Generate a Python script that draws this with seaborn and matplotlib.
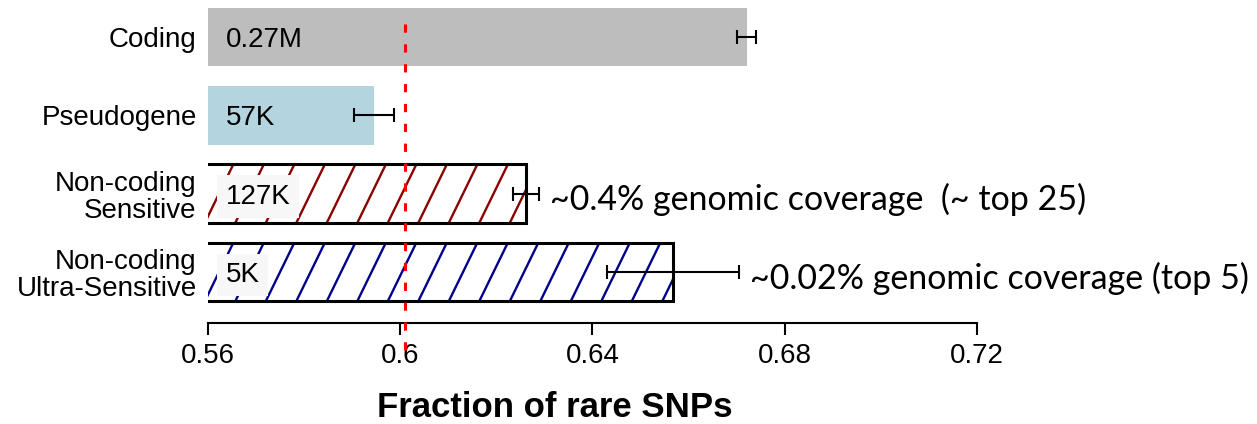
import numpy as np
import pandas as pd
import matplotlib
matplotlib.use("Agg")
import matplotlib.pyplot as plt
import seaborn as sns

# ---- data -------------------------------------------------------------
categories = ["Coding", "Pseudogene", "Non-coding\nSensitive", "Non-coding\nUltra-Sensitive"]
rare_fraction = [0.6721, 0.5945, 0.6262, 0.6568]
rare_fraction_err = [0.0020, 0.0041, 0.0027, 0.0137]
snp_counts = ["0.27M", "57K", "127K", "5K"]
coverage_notes = [None, None,
                  "~0.4% genomic coverage  (~ top 25)",
                  "~0.02% genomic coverage (top 5)"]
overall_fraction = 0.601
x_ticks = [0.56, 0.60, 0.64, 0.68, 0.72]
x_tick_labels = ["0.56", "0.6", "0.64", "0.68", "0.72"]

bar_colors = ["#BDBDBD", "#ADD8E6", "white", "white"]
hatch_colors = [None, None, "#8B0000", "#00008B"]

# ---- style ------------------------------------------------------------
sns.set_style("white")
plt.rcParams["font.family"] = ["Liberation Sans", "DejaVu Sans"]
plt.rcParams["text.color"] = "black"
plt.rcParams["axes.labelcolor"] = "black"
plt.rcParams["xtick.color"] = "black"
plt.rcParams["ytick.color"] = "black"

fig = plt.figure(figsize=(12.57, 4.24), dpi=100)
ax = fig.add_axes([0.16571, 0.2375, 0.6113, 0.7625])

df = pd.DataFrame({"category": categories, "fraction": rare_fraction})
sns.barplot(data=df, x="fraction", y="category", hue="category",
            palette=bar_colors, legend=False, orient="h", width=0.75,
            linewidth=0, ax=ax)

ax.set_xlim(0.56, 0.72)
ax.set_ylim(3.655, -0.472)

positions = np.arange(len(categories))


def draw_hatch(patch, color, angle=64, spacing=30.5, lw=1.7):
    """Diagonal stripes inside a bar, computed in pixel space and clipped to it."""
    inv = ax.transData.inverted()
    bb = patch.get_window_extent()
    h = bb.y1 - bb.y0
    dx = h / np.tan(np.deg2rad(angle))
    for xb in np.arange(bb.x0 - dx - spacing, bb.x1 + spacing, spacing):
        t_lo = max(0.0, (bb.x0 - xb) / dx)
        t_hi = min(1.0, (bb.x1 - xb) / dx)
        if t_hi <= t_lo:
            continue
        p0 = inv.transform((xb + t_lo * dx, bb.y0 + t_lo * h))
        p1 = inv.transform((xb + t_hi * dx, bb.y0 + t_hi * h))
        ax.plot([p0[0], p1[0]], [p0[1], p1[1]], color=color, lw=lw,
                zorder=1.5, solid_capstyle="butt")


# hatched outline bars for the non-coding classes
fig.canvas.draw()
for patch, hcol in zip(ax.patches, hatch_colors):
    if hcol is None:
        patch.set_zorder(1)
        continue
    patch.set_facecolor("none")
    patch.set_edgecolor("black")
    patch.set_linewidth(2.2)
    patch.set_zorder(2)
    draw_hatch(patch, hcol)

# error bars
ax.errorbar(rare_fraction, positions, xerr=rare_fraction_err, fmt="none",
            ecolor="black", elinewidth=1.5, capsize=5, capthick=1.5, zorder=3)

# SNP counts inside the bars
for i, (lab, hcol) in enumerate(zip(snp_counts, hatch_colors)):
    box = None
    if hcol is not None:
        box = dict(boxstyle="square,pad=0.3", facecolor="#F7F7F7", edgecolor="none")
    ax.annotate(lab, xy=(0.56, i), xytext=(12.5, -7.2), textcoords="offset points",
                ha="left", va="baseline", fontsize=20, color="black",
                bbox=box, zorder=3.5)

# coverage notes next to the error bars
for i, note in enumerate(coverage_notes):
    if note is None:
        continue
    ax.annotate(note, xy=(rare_fraction[i] + rare_fraction_err[i], i),
                xytext=(8, -12), textcoords="offset points",
                ha="left", va="baseline", fontsize=24.5, color="black",
                family=["Lato", "DejaVu Sans"], annotation_clip=False)

# genome-wide reference line
ax.axvline(overall_fraction, ymin=-0.083, ymax=0.96, color="red", lw=2.2,
           ls=(0, (2.7, 3.8)), clip_on=False, zorder=4)

# axes styling
for side in ["left", "right", "top"]:
    ax.spines[side].set_visible(False)
ax.spines["bottom"].set_linewidth(1.5)
ax.spines["bottom"].set_color("black")
ax.set_xticks(x_ticks)
ax.set_xticklabels(x_tick_labels)
ax.tick_params(axis="x", direction="out", length=8.6, width=1.5, pad=5.5,
               labelsize=20, colors="black", bottom=True)
ax.tick_params(axis="y", length=0, pad=8.4, labelsize=20, colors="black")
for t in ax.get_yticklabels():
    t.set_linespacing(1.05)
ax.set_xlabel("")
ax.set_ylabel("")

fig.text(555 / 1257, 1 - 416.7 / 424, "Fraction of rare SNPs", ha="center",
         va="baseline", fontsize=25, fontweight="bold", color="black")

fig.savefig("out.png", dpi=100, facecolor="white")
